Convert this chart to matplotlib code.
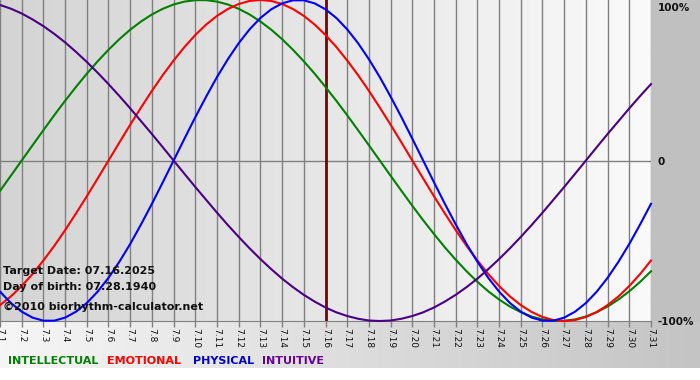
import numpy as np
import matplotlib
matplotlib.use("Agg")
import matplotlib.pyplot as plt

# days of July shown on the chart
days = list(range(1, 32))
day_labels = ["7.%d" % d for d in days]
target_day = 16

# curve readings every half day from 7.1 to 7.31
sample_days = np.arange(1, 31.01, 0.5)

physical = [-0.817, -0.888, -0.942, -0.979, -0.998, -0.998, -0.979, -0.942, -0.888, -0.817,
            -0.731, -0.631, -0.520, -0.398, -0.270, -0.136, 0.000, 0.136, 0.270, 0.398,
            0.520, 0.631, 0.731, 0.817, 0.888, 0.942, 0.979, 0.998, 0.998, 0.979,
            0.942, 0.888, 0.817, 0.731, 0.631, 0.520, 0.398, 0.270, 0.136, 0.000,
            -0.136, -0.270, -0.398, -0.520, -0.631, -0.731, -0.817, -0.888, -0.942, -0.979,
            -0.998, -0.998, -0.979, -0.942, -0.888, -0.817, -0.731, -0.631, -0.520, -0.398,
            -0.270]
emotional = [-0.901, -0.847, -0.782, -0.707, -0.623, -0.532, -0.434, -0.330, -0.223, -0.112,
             0.000, 0.112, 0.223, 0.330, 0.434, 0.532, 0.623, 0.707, 0.782, 0.847,
             0.901, 0.944, 0.975, 0.994, 1.000, 0.994, 0.975, 0.944, 0.901, 0.847,
             0.782, 0.707, 0.623, 0.532, 0.434, 0.330, 0.223, 0.112, 0.000, -0.112,
             -0.223, -0.330, -0.434, -0.532, -0.623, -0.707, -0.782, -0.847, -0.901, -0.944,
             -0.975, -0.994, -1.000, -0.994, -0.975, -0.944, -0.901, -0.847, -0.782, -0.707,
             -0.623]
intellectual = [-0.189, -0.095, 0.000, 0.095, 0.189, 0.282, 0.372, 0.458, 0.541, 0.618,
                0.690, 0.756, 0.815, 0.866, 0.910, 0.945, 0.972, 0.990, 0.999, 0.999,
                0.990, 0.972, 0.945, 0.910, 0.866, 0.815, 0.756, 0.690, 0.618, 0.541,
                0.458, 0.372, 0.282, 0.189, 0.095, 0.000, -0.095, -0.189, -0.282, -0.372,
                -0.458, -0.541, -0.618, -0.690, -0.756, -0.815, -0.866, -0.910, -0.945, -0.972,
                -0.990, -0.999, -0.999, -0.990, -0.972, -0.945, -0.910, -0.866, -0.815, -0.756,
                -0.690]
intuitive = [0.969, 0.946, 0.916, 0.879, 0.837, 0.789, 0.736, 0.677, 0.614, 0.547,
             0.476, 0.402, 0.325, 0.245, 0.165, 0.083, 0.000, -0.083, -0.165, -0.245,
             -0.325, -0.402, -0.476, -0.547, -0.614, -0.677, -0.736, -0.789, -0.837, -0.879,
             -0.916, -0.946, -0.969, -0.986, -0.997, -1.000, -0.997, -0.986, -0.969, -0.946,
             -0.916, -0.879, -0.837, -0.789, -0.736, -0.677, -0.614, -0.547, -0.476, -0.402,
             -0.325, -0.245, -0.165, -0.083, 0.000, 0.083, 0.165, 0.245, 0.325, 0.402,
             0.476]

series = [("INTELLECTUAL", intellectual, "#008000"),
          ("EMOTIONAL", emotional, "#ff0000"),
          ("PHYSICAL", physical, "#0000ff"),
          ("INTUITIVE", intuitive, "#4b0082")]
legend_colors = ["#008000", "#ff0000", "#0000cc", "#660099"]

info_lines = ["Target Date: 07.16.2025",
              "Day of birth: 07.28.1940",
              "\u00a92010 biorhythm-calculator.net"]

W, H = 700, 380
fig = plt.figure(figsize=(7, 3.8), dpi=100)

# page background: grey right margin, gradient strip under the plot, white bottom
bg = fig.add_axes([0, 0, 1, 1])
bg.set_xlim(0, W)
bg.set_ylim(H, 0)
bg.axis("off")
bg.add_patch(plt.Rectangle((0, 0), W, H, color="white", zorder=0))
bg.add_patch(plt.Rectangle((651, 0), W - 651, 322, color="#c0c0c0", zorder=1))
grad = np.linspace(0, 1, 256).reshape(1, -1)
bottom_cmap = matplotlib.colors.LinearSegmentedColormap.from_list("b", ["#f6f6f6", "#c4c4c4"])
bg.imshow(grad, cmap=bottom_cmap, extent=[0, W, 368, 321], aspect="auto", zorder=1)

# plot area
top_px, bot_px, right_px = 0, 321, 651
ax = fig.add_axes([0, 1 - bot_px / H, right_px / W, (bot_px - top_px) / H])
ax.set_xlim(days[0], days[-1])
ax.set_ylim(-1, 1)
plot_cmap = matplotlib.colors.LinearSegmentedColormap.from_list("p", ["#d4d4d4", "#fafafa"])
ax.imshow(grad, cmap=plot_cmap, extent=[days[0], days[-1], -1, 1], aspect="auto", zorder=0)

for d in days:
    ax.axvline(d, color="#808080", lw=1, zorder=1)
ax.axhline(0, color="#808080", lw=1, zorder=1)
ax.axvline(target_day, color="#800000", lw=2, zorder=2)

for name, vals, col in series:
    ax.plot(sample_days, vals, color=col, lw=1.5, zorder=3, clip_on=False)

for s in ["top", "right", "left"]:
    ax.spines[s].set_visible(False)
ax.spines["bottom"].set_color("#808080")
ax.set_yticks([])
ax.set_xticks(days)
ax.set_xticklabels(day_labels, rotation=270, fontsize=6.5, color="#111111")
ax.tick_params(axis="x", length=4, width=1, color="#808080", pad=1)

for line, y in zip(info_lines, [271, 287, 307]):
    fig.text(3 / W, 1 - y / H, line, fontsize=8, fontweight="bold",
             va="center", ha="left", color="#111111")

# right side percentage labels
for txt, y in [("100%", 8), ("0", 162), ("-100%", 322)]:
    fig.text(658 / W, 1 - y / H, txt, fontsize=7.5, fontweight="bold",
             va="center", ha="left", color="#111111")

# legend
for (name, vals, col), lc, x in zip(series, legend_colors, [8, 107, 193, 262]):
    fig.text(x / W, 1 - 361 / H, name, fontsize=8, fontweight="bold",
             va="center", ha="left", color=lc)

fig.savefig("out.png", dpi=100)
